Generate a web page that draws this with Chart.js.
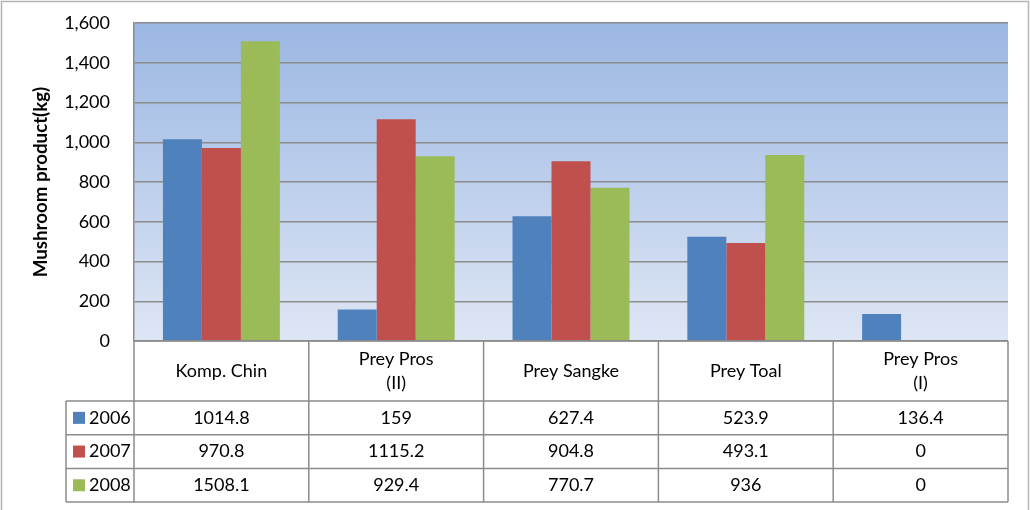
<!DOCTYPE html>
<html>
<head>
<meta charset="utf-8">
<title>Mushroom product</title>
<script src="https://cdn.jsdelivr.net/npm/chart.js@4.4.0/dist/chart.umd.min.js"></script>
<style>
html, body { margin: 0; padding: 0; background: #fff; }
#wrap { width: 1030px; height: 510px; position: relative; }
</style>
</head>
<body>
<div id="wrap"><canvas id="mushroomChart" width="1030" height="510"></canvas></div>
<script>
// categories (multi-line labels as in the data table header)
const categories = [['Komp. Chin'], ['Prey Pros', '(II)'], ['Prey Sangke'], ['Prey Toal'], ['Prey Pros', '(I)']];
const years = ['2006', '2007', '2008'];
const values2006 = [1014.8, 159, 627.4, 523.9, 136.4];
const values2007 = [970.8, 1115.2, 904.8, 493.1, 0];
const values2008 = [1508.1, 929.4, 770.7, 936, 0];
const yMax = 1600;
const yStep = 200;

const seriesColors = ['#4F81BD', '#C0504D', '#9BBB59'];
const FONT = 'Lato, "Open Sans", sans-serif';
const FONT_SIZE = 18;
const LINE_GRAY = '#8C8C8C';

const seriesValues = [values2006, values2007, values2008];

// header row + 3 data rows under the plot
const HEADER_H = 60;
const ROW_H = 33.7;
const LEGEND_LEFT = 66;

const dataTablePlugin = {
    id: 'dataTable',
    beforeDraw(chart) {
        const ctx = chart.ctx;
        const a = chart.chartArea;
        ctx.save();
        // outer frame
        ctx.strokeStyle = '#B4B4B4';
        ctx.lineWidth = 1.5;
        ctx.strokeRect(1.5, 1.5, chart.width - 3, chart.height + 10);
        // plot area background
        const g = ctx.createLinearGradient(0, a.top, 0, a.bottom);
        g.addColorStop(0, '#9BB7E3');
        g.addColorStop(1, '#DEE6F4');
        ctx.fillStyle = g;
        ctx.fillRect(a.left, a.top, a.right - a.left, a.bottom - a.top);
        ctx.restore();
    },
    afterDraw(chart) {
        const ctx = chart.ctx;
        const a = chart.chartArea;
        const xs = chart.scales.x;
        const colW = (a.right - a.left) / categories.length;
        const top = a.bottom;
        const rowsTop = top + HEADER_H;
        const bottom = rowsTop + ROW_H * years.length;

        ctx.save();
        ctx.strokeStyle = LINE_GRAY;
        ctx.lineWidth = 1.5;
        ctx.beginPath();
        // x axis / table top
        ctx.moveTo(a.left, top);
        ctx.lineTo(a.right, top);
        // row lines
        for (let r = 0; r <= years.length; r++) {
            const y = rowsTop + r * ROW_H;
            ctx.moveTo(LEGEND_LEFT, y);
            ctx.lineTo(a.right, y);
        }
        // column lines
        for (let c = 0; c <= categories.length; c++) {
            const x = a.left + c * colW;
            ctx.moveTo(x, top);
            ctx.lineTo(x, bottom);
        }
        ctx.moveTo(LEGEND_LEFT, rowsTop);
        ctx.lineTo(LEGEND_LEFT, bottom);
        ctx.stroke();

        ctx.fillStyle = '#000';
        ctx.font = FONT_SIZE + 'px ' + FONT;
        ctx.textAlign = 'center';
        ctx.textBaseline = 'middle';

        // header labels
        categories.forEach((lines, i) => {
            const cx = xs.getPixelForValue(i);
            const lh = 24;
            const y0 = top + HEADER_H / 2 - (lines.length - 1) * lh / 2;
            lines.forEach((t, k) => ctx.fillText(t, cx, y0 + k * lh));
        });

        // legend keys + values
        years.forEach((yr, r) => {
            const cy = rowsTop + r * ROW_H + ROW_H / 2;
            ctx.fillStyle = seriesColors[r];
            ctx.fillRect(73, cy - 6, 12, 12);
            ctx.fillStyle = '#000';
            ctx.textAlign = 'left';
            ctx.fillText(yr, 89, cy);
            ctx.textAlign = 'center';
            seriesValues[r].forEach((v, i) => {
                ctx.fillText(String(v), xs.getPixelForValue(i), cy);
            });
        });
        ctx.restore();
    }
};

const ctx = document.getElementById('mushroomChart').getContext('2d');
const mushroomChart = new Chart(ctx, {
    type: 'bar',
    data: {
        labels: categories,
        datasets: years.map((yr, i) => ({
            label: yr,
            data: seriesValues[i],
            backgroundColor: seriesColors[i],
            borderWidth: 0,
            categoryPercentage: 0.669,
            barPercentage: 1.0
        }))
    },
    options: {
        responsive: false,
        animation: false,
        devicePixelRatio: 1,
        layout: {
            padding: { left: 0, top: 23, right: 22, bottom: 169 }
        },
        plugins: {
            legend: { display: false },
            tooltip: { enabled: false },
            title: { display: false }
        },
        scales: {
            x: {
                grid: { display: false },
                border: { display: false },
                ticks: { display: false },
                afterFit: (scale) => {
                    scale.height = 0;
                    scale.paddingLeft = 0;
                    scale.paddingRight = 0;
                }
            },
            y: {
                min: 0,
                max: yMax,
                border: { color: LINE_GRAY, width: 1.5 },
                grid: { color: LINE_GRAY, lineWidth: 1.5, drawTicks: false },
                ticks: {
                    stepSize: yStep,
                    padding: 24,
                    color: '#000',
                    font: { family: FONT, size: FONT_SIZE },
                    callback: (v) => v.toLocaleString('en-US')
                },
                title: {
                    display: true,
                    text: 'Mushroom product(kg)',
                    color: '#000',
                    font: { family: FONT, size: 18.7, weight: 'bold' },
                    padding: { top: 30, bottom: 0 }
                },
                afterFit: (scale) => {
                    scale.width = 134;
                    scale.paddingTop = 0;
                    scale.paddingBottom = 0;
                }
            }
        }
    },
    plugins: [dataTablePlugin]
});
</script>
</body>
</html>
